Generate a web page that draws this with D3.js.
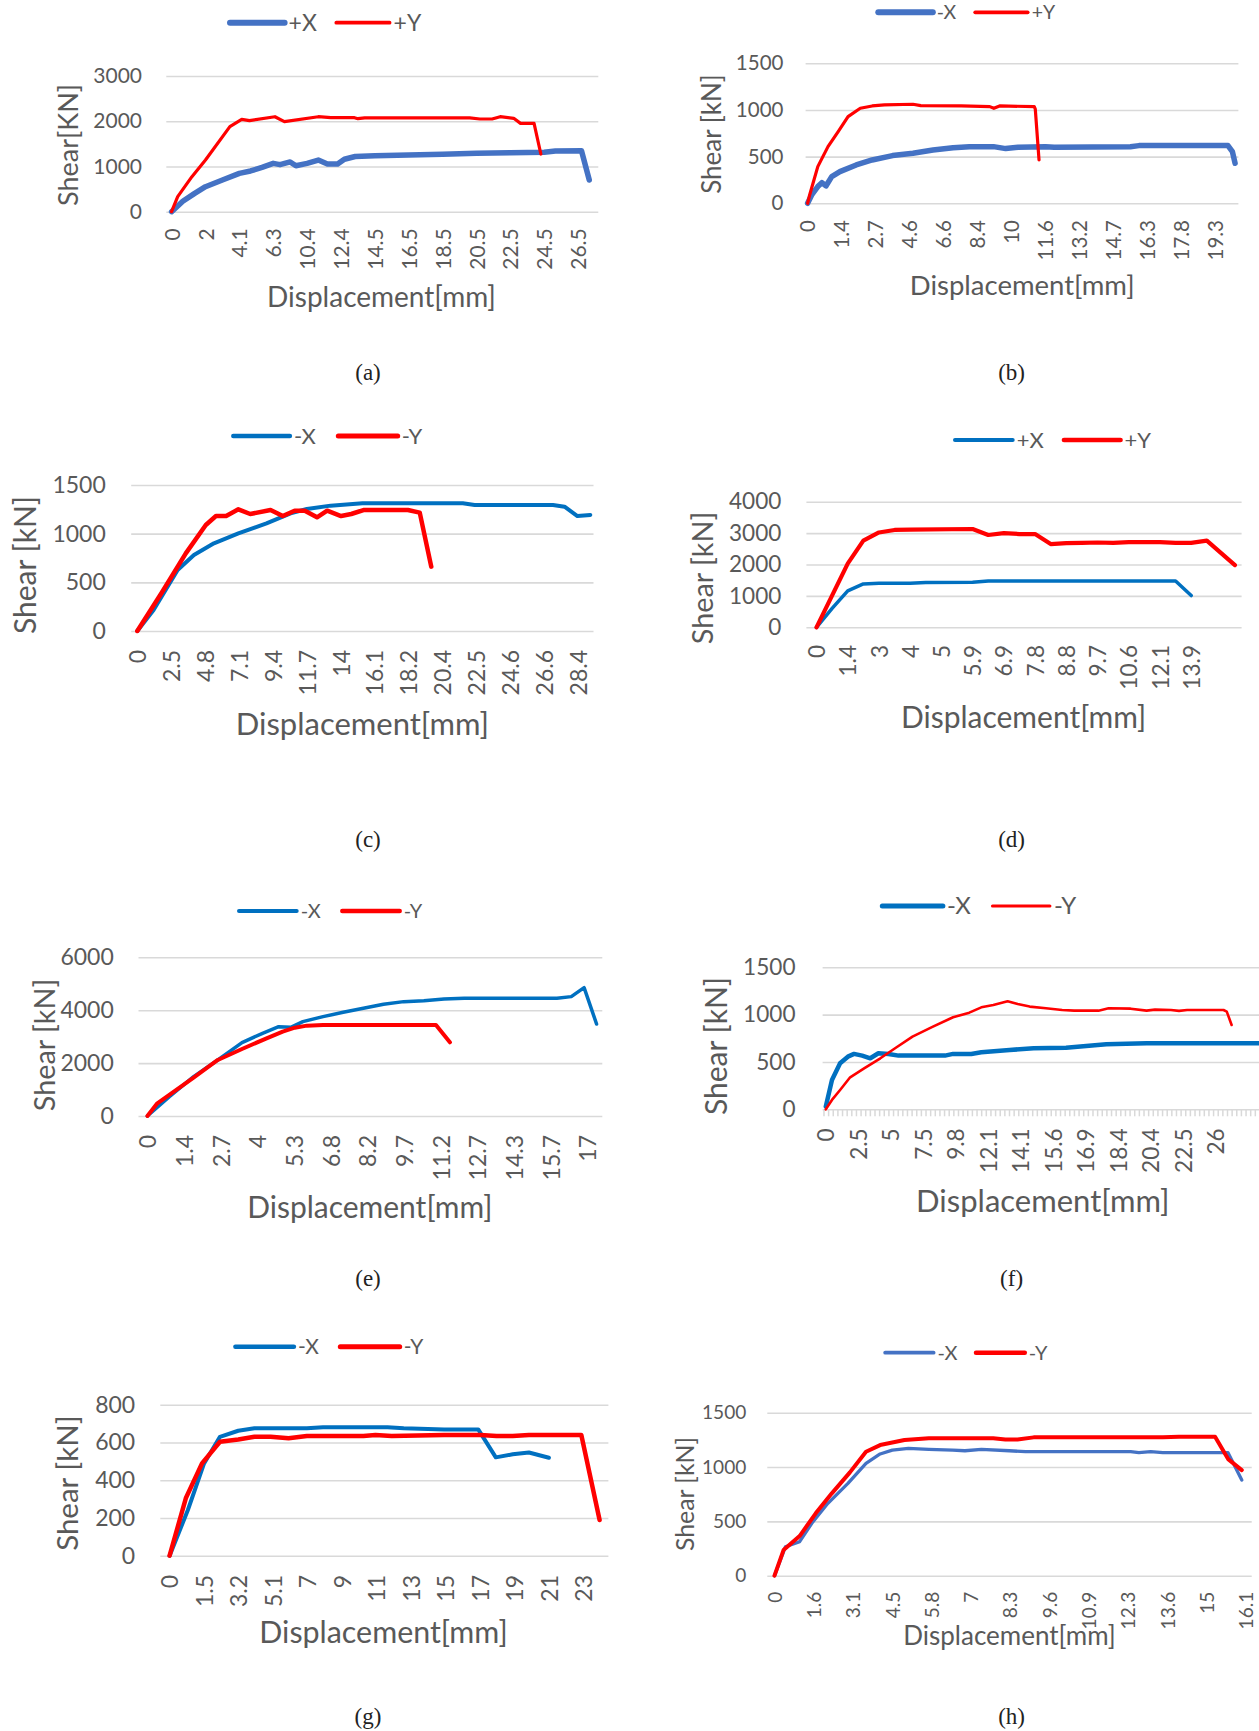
<!DOCTYPE html>
<html>
<head>
<meta charset="utf-8">
<script src="https://cdn.jsdelivr.net/npm/d3@7"></script>
<style>
  body { margin: 0; background: #fff; }
  svg { display: block; }
</style>
</head>
<body>
<div class="figure"></div>
<script>
// ---- data (x in label-slot units: 0 = first tick label, 1 = second, ...) ----
const xLabelsA = ['0', '2', '4.1', '6.3', '10.4', '12.4', '14.5', '16.5', '18.5', '20.5', '22.5', '24.5', '26.5'];
const yTicksA = [0, 1000, 2000, 3000];
const aPlusX = [[0, 0], [0.33, 230], [0.67, 400], [1, 553], [1.5, 700], [2, 848], [2.33, 900], [2.67, 980], [3, 1069], [3.2, 1040], [3.5, 1100], [3.67, 1017], [4, 1069], [4.33, 1142], [4.6, 1054], [4.9, 1054], [5.1, 1160], [5.42, 1220], [6, 1238], [7, 1253], [8, 1268], [9, 1290], [10, 1305], [11, 1312], [11.33, 1341], [12.1, 1349], [12.33, 700]];
const aPlusY = [[0, 0], [0.18, 332], [0.6, 774], [1, 1142], [1.72, 1880], [2.07, 2042], [2.3, 2012], [3.05, 2100], [3.33, 1990], [4.33, 2100], [4.7, 2079], [5.4, 2079], [5.5, 2056], [5.7, 2075], [8.8, 2075], [9.1, 2049], [9.46, 2049], [9.7, 2100], [10.1, 2064], [10.3, 1953], [10.7, 1953], [10.9, 1275]];

const xLabelsB = ['0', '1.4', '2.7', '4.6', '6.6', '8.4', '10', '11.6', '13.2', '14.7', '16.3', '17.8', '19.3'];
const yTicksB = [0, 500, 1000, 1500];
const bMinusX = [[0, 0], [0.12, 89], [0.3, 179], [0.42, 221], [0.54, 186], [0.71, 286], [0.95, 339], [1.43, 411], [1.9, 464], [2.5, 511], [3.1, 536], [3.69, 571], [4.28, 596], [4.76, 607], [5.47, 607], [5.83, 586], [6.19, 600], [7.0, 607], [7.26, 600], [9.5, 607], [9.75, 618], [12.37, 618], [12.5, 554], [12.58, 429]];
const bPlusY = [[0, 0], [0.06, 89], [0.3, 393], [0.6, 607], [0.9, 768], [1.19, 929], [1.55, 1018], [1.9, 1043], [2.26, 1054], [3.1, 1061], [3.33, 1046], [4.52, 1043], [5.36, 1036], [5.48, 1018], [5.65, 1043], [6.67, 1036], [6.7, 1010], [6.81, 464]];

const xLabelsC = ['0', '2.5', '4.8', '7.1', '9.4', '11.7', '14', '16.1', '18.2', '20.4', '22.5', '24.6', '26.6', '28.4'];
const yTicksC = [0, 500, 1000, 1500];
const cMinusX = [[0, 0], [0.48, 216], [1.19, 627], [1.67, 781], [2.26, 901], [2.98, 1003], [3.81, 1106], [4.52, 1209], [5.0, 1253], [5.7, 1288], [6.64, 1312], [9.6, 1312], [9.95, 1295], [12.26, 1295], [12.6, 1277], [12.98, 1181], [13.36, 1192]];
const cMinusY = [[0, 0], [0.71, 387], [1.43, 798], [2.02, 1089], [2.32, 1181], [2.62, 1181], [2.98, 1250], [3.33, 1202], [3.93, 1243], [4.29, 1181], [4.64, 1236], [4.94, 1236], [5.3, 1168], [5.6, 1236], [6.01, 1181], [6.31, 1202], [6.67, 1243], [7.98, 1243], [8.33, 1216], [8.67, 661]];

const xLabelsD = ['0', '1.4', '3', '4', '5', '5.9', '6.9', '7.8', '8.8', '9.7', '10.6', '12.1', '13.9'];
const yTicksD = [0, 1000, 2000, 3000, 4000];
const dPlusX = [[0, 0], [0.5, 600], [1, 1160], [1.5, 1380], [2, 1400], [3, 1400], [3.5, 1430], [5, 1432], [5.5, 1475], [11.5, 1475], [12, 1010]];
const dPlusY = [[0, 0], [1, 2030], [1.5, 2760], [2, 3020], [2.5, 3100], [3, 3110], [5, 3130], [5.5, 2940], [6, 3000], [6.5, 2970], [7, 2970], [7.5, 2650], [8, 2680], [8.5, 2690], [9, 2700], [9.5, 2690], [10, 2710], [11, 2710], [11.5, 2690], [12, 2690], [12.5, 2760], [13.4, 1980]];

const xLabelsE = ['0', '1.4', '2.7', '4', '5.3', '6.8', '8.2', '9.7', '11.2', '12.7', '14.3', '15.7', '17'];
const yTicksE = [0, 2000, 4000, 6000];
const eMinusX = [[0, 0], [0.6, 731], [1.26, 1487], [1.92, 2118], [2.58, 2773], [3.14, 3126], [3.58, 3378], [3.91, 3353], [4.24, 3567], [4.79, 3756], [5.34, 3920], [5.89, 4071], [6.44, 4223], [6.99, 4324], [7.54, 4361], [8.09, 4424], [8.64, 4450], [11.17, 4450], [11.56, 4513], [11.91, 4853], [12.25, 3479]];
const eMinusY = [[0, 0], [0.27, 479], [1.26, 1450], [1.92, 2118], [2.58, 2534], [3.25, 2937], [3.69, 3189], [4.02, 3340], [4.35, 3416], [4.79, 3441], [7.87, 3441], [8.25, 2786]];

const xLabelsF = ['0', '2.5', '5', '7.5', '9.8', '12.1', '14.1', '15.6', '16.9', '18.4', '20.4', '22.5', '26'];
const yTicksF = [0, 500, 1000, 1500];
const fMinusX = [[0, 30], [0.19, 310], [0.44, 486], [0.68, 556], [0.87, 585], [1.12, 567], [1.37, 539], [1.62, 592], [1.93, 585], [2.24, 567], [3.67, 567], [3.92, 585], [4.48, 585], [4.79, 602], [5.66, 627], [6.4, 644], [7.4, 651], [8.64, 687], [9.88, 697], [13.4, 697]];
const fMinusY = [[0, 0], [0.19, 99], [0.44, 204], [0.75, 338], [1.18, 433], [1.68, 539], [2.18, 655], [2.67, 768], [3.3, 873], [3.92, 972], [4.42, 1021], [4.79, 1077], [5.16, 1102], [5.6, 1141], [5.91, 1113], [6.28, 1085], [6.78, 1067], [7.28, 1049], [7.65, 1042], [8.4, 1042], [8.71, 1067], [9.39, 1063], [9.88, 1042], [10.14, 1053], [10.63, 1049], [10.88, 1040], [11.13, 1049], [12.25, 1049], [12.35, 1032], [12.5, 891]];

const xLabelsG = ['0', '1.5', '3.2', '5.1', '7', '9', '11', '13', '15', '17', '19', '21', '23'];
const yTicksG = [0, 200, 400, 600, 800];
const gMinusX = [[0, 0], [0.53, 242], [1.0, 489], [1.46, 630], [1.99, 662], [2.46, 675], [3.98, 675], [4.45, 680], [6.32, 680], [6.79, 675], [7.96, 669], [8.95, 669], [9.46, 521], [9.95, 537], [10.42, 547], [11.0, 519]];
const gMinusY = [[0, 0], [0.47, 304], [0.94, 489], [1.46, 604], [1.99, 616], [2.46, 630], [2.93, 630], [3.45, 622], [3.98, 634], [5.62, 634], [5.97, 639], [6.44, 634], [7.96, 639], [9.02, 639], [9.48, 634], [9.95, 634], [10.42, 639], [11.94, 639], [12.47, 189]];

const xLabelsH = ['0', '1.6', '3.1', '4.5', '5.8', '7', '8.3', '9.6', '10.9', '12.3', '13.6', '15', '16.1'];
const yTicksH = [0, 500, 1000, 1500];
const hMinusX = [[0, 0], [0.28, 267], [0.64, 313], [0.95, 482], [1.36, 666], [1.87, 850], [2.33, 1034], [2.69, 1120], [3.0, 1156], [3.41, 1172], [3.93, 1163], [4.54, 1156], [4.85, 1150], [5.27, 1163], [5.98, 1150], [6.39, 1141], [9.07, 1141], [9.28, 1132], [9.58, 1141], [9.89, 1132], [11.55, 1132], [11.9, 880]];
const hMinusY = [[0, 0], [0.23, 236], [0.64, 365], [1.05, 574], [1.46, 758], [1.92, 951], [2.33, 1141], [2.69, 1202], [3.31, 1248], [3.93, 1264], [5.57, 1264], [5.88, 1254], [6.19, 1254], [6.6, 1273], [9.89, 1273], [10.3, 1279], [11.22, 1279], [11.56, 1070], [11.9, 972]];

// ---- styling ----
const RED = '#FF0000';
const BLUE_A = '#4472C4';
const BLUE_C = '#0070C0';
const TEXT = '#595959';
const GRID = '#D9D9D9';
const FONT = 'Lato, "Open Sans", sans-serif';

let svg = d3.select('.figure')
  .append('svg')
  .attr('width', 1259)
  .attr('height', 1731)
  .attr('viewBox', '0 0 1259 1731');

// one Excel-like line chart
function drawPanel(p) {
  let g = svg.append('g').attr('class', 'panel panel-' + p.id);

  let xScale = d3.scaleLinear()
    .domain([0, p.labels.length - 1])
    .range([p.lab0, p.labN]);

  let yScale = d3.scaleLinear()
    .domain([0, d3.max(p.yTicks)])
    .range([p.yBot, p.yTop]);

  // gridlines + y labels
  let yAxis = g.append('g')
    .attr('transform', 'translate(' + p.x0 + ',0)')
    .call(d3.axisLeft(yScale)
      .tickValues(p.yTicks)
      .tickFormat(d3.format('d'))
      .tickSize(-(p.x1 - p.x0))
      .tickPadding(p.x0 - p.yLabRight));
  yAxis.select('.domain').remove();
  yAxis.selectAll('line').attr('stroke', GRID).attr('stroke-width', 1.6);
  yAxis.selectAll('text')
    .attr('fill', TEXT)
    .style('font-family', FONT)
    .style('font-size', p.tickFont + 'px');

  // category tick marks (only panel f shows them)
  if (p.catTicks) {
    let step = 1 / p.catTicks;
    let tv = d3.range(-step / 2, p.labels.length + 1, step);
    let catAxis = g.append('g')
      .attr('transform', 'translate(0,' + p.yBot + ')')
      .call(d3.axisBottom(xScale).tickValues(tv).tickSize(7).tickFormat(''));
    catAxis.select('.domain').remove();
    catAxis.selectAll('line').attr('stroke', GRID).attr('stroke-width', 1.5);
  }

  // x labels, rotated
  let xAxis = g.append('g')
    .attr('transform', 'translate(0,' + p.yBot + ')')
    .call(d3.axisBottom(xScale)
      .tickValues(d3.range(p.labels.length))
      .tickFormat(function(i) { return p.labels[i]; })
      .tickSize(0));
  xAxis.select('.domain').remove();
  xAxis.selectAll('text')
    .attr('fill', TEXT)
    .attr('transform', 'rotate(-90)')
    .attr('x', -p.xLabOff)
    .attr('y', 0)
    .attr('dy', '0.36em')
    .style('text-anchor', 'end')
    .style('font-family', FONT)
    .style('font-size', p.tickFont + 'px');

  // series
  let line = d3.line()
    .x(function(d) { return xScale(d[0]); })
    .y(function(d) { return yScale(d[1]); });

  g.selectAll('.series')
    .data(p.series)
    .enter().append('path')
    .attr('class', 'series')
    .attr('d', function(s) { return line(s.data); })
    .attr('fill', 'none')
    .attr('stroke', function(s) { return s.color; })
    .attr('stroke-width', function(s) { return s.width; })
    .attr('stroke-linejoin', 'round')
    .attr('stroke-linecap', 'round');

  // legend
  let leg = g.selectAll('.legend')
    .data(p.series)
    .enter().append('g')
    .attr('class', 'legend');
  leg.append('line')
    .attr('x1', function(s, i) { return p.legend[i][0]; })
    .attr('x2', function(s, i) { return p.legend[i][1]; })
    .attr('y1', p.legendY)
    .attr('y2', p.legendY)
    .attr('stroke', function(s) { return s.color; })
    .attr('stroke-width', function(s) { return s.width + 0.5; })
    .attr('stroke-linecap', 'round');
  leg.append('text')
    .attr('x', function(s, i) { return p.legend[i][1] + 4; })
    .attr('y', p.legendY)
    .attr('dy', '0.35em')
    .attr('fill', TEXT)
    .style('font-family', FONT)
    .style('font-size', p.legendFont + 'px')
    .text(function(s) { return s.name; });

  // axis titles
  g.append('text')
    .attr('transform', 'translate(' + p.yTitle[0] + ',' + p.yTitle[1] + ') rotate(-90)')
    .attr('dy', '0.36em')
    .attr('text-anchor', 'middle')
    .attr('fill', TEXT)
    .style('font-family', FONT)
    .style('font-size', p.yTitleFont + 'px')
    .text(p.yTitleText);

  g.append('text')
    .attr('x', p.xTitle[0])
    .attr('y', p.xTitle[1])
    .attr('text-anchor', 'middle')
    .attr('fill', TEXT)
    .style('font-family', FONT)
    .style('font-size', p.xTitleFont + 'px')
    .text('Displacement[mm]');

  // caption
  g.append('text')
    .attr('x', p.caption[0])
    .attr('y', p.caption[1])
    .attr('text-anchor', 'middle')
    .attr('fill', '#222')
    .style('font-family', '"Liberation Serif", "Times New Roman", serif')
    .style('font-size', '23px')
    .text('(' + p.id + ')');
}

let panels = [
  { id: 'a', labels: xLabelsA, yTicks: yTicksA,
    series: [{ name: '+X', data: aPlusX, color: BLUE_A, width: 5.5 }, { name: '+Y', data: aPlusY, color: RED, width: 3.2 }],
    x0: 166.3, x1: 598.3, lab0: 171.6, labN: 578.1, yTop: 76, yBot: 211.7, yLabRight: 142, xLabOff: 16.6,
    tickFont: 21, legend: [[230, 284.6], [336.3, 389.6]], legendY: 22.7, legendFont: 23,
    yTitle: [68.6, 145], yTitleText: 'Shear[KN]', yTitleFont: 27, xTitle: [381.5, 307], xTitleFont: 28, caption: [368, 380] },
  { id: 'b', labels: xLabelsB, yTicks: yTicksB,
    series: [{ name: '-X', data: bMinusX, color: BLUE_A, width: 5.5 }, { name: '+Y', data: bPlusY, color: RED, width: 3.2 }],
    x0: 805.6, x1: 1238.4, lab0: 807.6, labN: 1215.4, yTop: 63.3, yBot: 203.3, yLabRight: 783.4, xLabOff: 16.7,
    tickFont: 20.5, legend: [[878.3, 932.8], [975.2, 1027.7]], legendY: 12.3, legendFont: 19.5,
    yTitle: [711.7, 134], yTitleText: 'Shear [kN]', yTitleFont: 26, xTitle: [1022.2, 295], xTitleFont: 27.5, caption: [1011.6, 380] },
  { id: 'c', labels: xLabelsC, yTicks: yTicksC,
    series: [{ name: '-X', data: cMinusX, color: BLUE_C, width: 4 }, { name: '-Y', data: cMinusY, color: RED, width: 4.5 }],
    x0: 131.2, x1: 593.5, lab0: 137.3, labN: 578.1, yTop: 485, yBot: 631, yLabRight: 105.8, xLabOff: 19,
    tickFont: 23, legend: [[233.3, 289.9], [338.3, 397.7]], legendY: 436, legendFont: 22,
    yTitle: [25.2, 565], yTitleText: 'Shear [kN]', yTitleFont: 30, xTitle: [362.4, 735], xTitleFont: 31, caption: [368, 847] },
  { id: 'd', labels: xLabelsD, yTicks: yTicksD,
    series: [{ name: '+X', data: dPlusX, color: BLUE_C, width: 3.5 }, { name: '+Y', data: dPlusY, color: RED, width: 4.2 }],
    x0: 806.4, x1: 1241.6, lab0: 816.5, labN: 1191.2, yTop: 501.7, yBot: 627.3, yLabRight: 781.4, xLabOff: 17.7,
    tickFont: 22.6, legend: [[955, 1012.7], [1064, 1120.5]], legendY: 440, legendFont: 22,
    yTitle: [702.7, 578], yTitleText: 'Shear [kN]', yTitleFont: 28.8, xTitle: [1023.6, 728], xTitleFont: 30, caption: [1011.6, 847] },
  { id: 'e', labels: xLabelsE, yTicks: yTicksE,
    series: [{ name: '-X', data: eMinusX, color: BLUE_C, width: 3.5 }, { name: '-Y', data: eMinusY, color: RED, width: 4 }],
    x0: 138.5, x1: 602.3, lab0: 147.4, labN: 587.4, yTop: 957.3, yBot: 1116, yLabRight: 113.8, xLabOff: 19,
    tickFont: 23, legend: [[239, 296.7], [342.3, 399.7]], legendY: 911, legendFont: 20,
    yTitle: [44.4, 1045], yTitleText: 'Shear [kN]', yTitleFont: 28.8, xTitle: [369.8, 1218], xTitleFont: 30, caption: [368, 1286] },
  { id: 'f', labels: xLabelsF, yTicks: yTicksF, catTicks: 7,
    series: [{ name: '-X', data: fMinusX, color: BLUE_C, width: 4.5 }, { name: '-Y', data: fMinusY, color: RED, width: 2.6 }],
    x0: 822.6, x1: 1259, lab0: 825.8, labN: 1215.4, yTop: 967.3, yBot: 1109.3, yLabRight: 795.5, xLabOff: 19,
    tickFont: 22.6, legend: [[882.3, 942.9], [992.5, 1049.9]], legendY: 906, legendFont: 24,
    yTitle: [715.8, 1046], yTitleText: 'Shear [kN]', yTitleFont: 30, xTitle: [1042.8, 1211.7], xTitleFont: 31, caption: [1011.6, 1286] },
  { id: 'g', labels: xLabelsG, yTicks: yTicksG,
    series: [{ name: '-X', data: gMinusX, color: BLUE_C, width: 4 }, { name: '-Y', data: gMinusY, color: RED, width: 4.5 }],
    x0: 160.3, x1: 608.4, lab0: 169.6, labN: 583.4, yTop: 1404.7, yBot: 1555.7, yLabRight: 135.2, xLabOff: 19.3,
    tickFont: 23, legend: [[235.4, 293.9], [340.3, 399.7]], legendY: 1346.7, legendFont: 21,
    yTitle: [67.6, 1483], yTitleText: 'Shear [kN]', yTitleFont: 29.5, xTitle: [383.5, 1643], xTitleFont: 30.4, caption: [368, 1724] },
  { id: 'h', labels: xLabelsH, yTicks: yTicksH,
    series: [{ name: '-X', data: hMinusX, color: BLUE_A, width: 3.3 }, { name: '-Y', data: hMinusY, color: RED, width: 4 }],
    x0: 767.3, x1: 1251.7, lab0: 774.5, labN: 1245.7, yTop: 1412.7, yBot: 1575.7, yLabRight: 746.3, xLabOff: 16,
    tickFont: 19.1, legend: [[885.2, 933.6], [976, 1024.8]], legendY: 1352.7, legendFont: 20,
    yTitle: [685.5, 1494], yTitleText: 'Shear [kN]', yTitleFont: 24.8, xTitle: [1009.5, 1645], xTitleFont: 26, caption: [1011.6, 1724] }
];

panels.forEach(drawPanel);
</script>
</body>
</html>
